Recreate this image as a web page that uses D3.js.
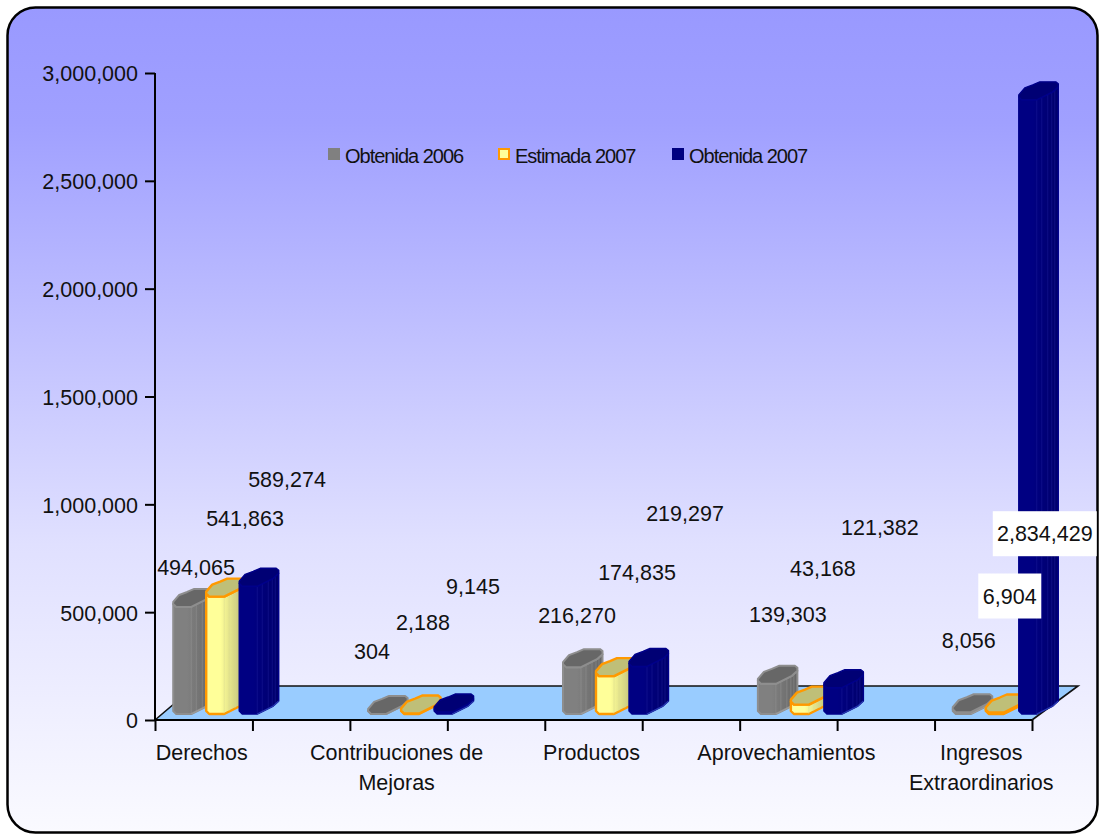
<!DOCTYPE html>
<html>
<head>
<meta charset="utf-8">
<script src="https://cdn.jsdelivr.net/npm/d3@7"></script>
<style>
html,body{margin:0;padding:0;background:#fff;}
svg{display:block;}
text{font-family:"Liberation Sans",Arial,sans-serif;fill:#111;}
</style>
</head>
<body>
<svg id="chart" width="1104" height="835"></svg>
<script>
const categories = [["Derechos"],["Contribuciones de","Mejoras"],["Productos"],["Aprovechamientos"],["Ingresos","Extraordinarios"]];
const seriesNames = ["Obtenida 2006","Estimada 2007","Obtenida 2007"];
const obtenida2006 = [494065,304,216270,139303,8056];
const estimada2007 = [541863,2188,174835,43168,6904];
const obtenida2007 = [589274,9145,219297,121382,2834429];
const yTicks = [0,500000,1000000,1500000,2000000,2500000,3000000];
const seriesValues = [obtenida2006,estimada2007,obtenida2007];

// Manual placement of the data labels, as offsets from each bar's top-left [dx,dy]
const labelNudges = [
  [[22.8,-46.4],[3.9,-69],[14,-58.4],[30,-76],[16,-78]],
  [[38.8,-85],[21.9,-97.5],[41,-110],[32,-142.7],[24,-122.5]],
  [[47.8,-114],[38.9,-132],[56,-159.7],[56,-166.8],[26,425]]
];
const boxedLabels = new Set(["1-4","2-4"]);

const looks = [
  {fillA:"#808080",fillB:"#686868",top:"#676767",stroke:"#8e8e8e",sw:2,line:"#9a9a9a",hi:"#9c9c9c",legend:"#808080"},
  {fillA:"#FFFF99",fillB:"#BDBD78",top:"#BFBF78",stroke:"#FF9900",sw:2.4,line:"#D8D890",hi:"#FF9900",legend:"#FFFF99"},
  {fillA:"#000082",fillB:"#00006C",top:"#000074",stroke:"#00008A",sw:1.4,line:"#2222a0",hi:"#2a3cb0",legend:"#000080"}
];

const svg = d3.select("#chart");
const defs = svg.append("defs");

const bg = defs.append("linearGradient").attr("id","bg").attr("x1",0).attr("y1",0).attr("x2",0).attr("y2",1);
[[0,"#9999FF"],[0.14,"#A0A0FF"],[0.65,"#E0E0FF"],[1,"#FAFAFF"]].forEach(s=>bg.append("stop").attr("offset",s[0]).attr("stop-color",s[1]));
looks.forEach((l,i)=>{
  const g = defs.append("linearGradient").attr("id","bar"+i).attr("x1",0).attr("y1",0).attr("x2",1).attr("y2",0);
  g.append("stop").attr("offset",0.35).attr("stop-color",l.fillA);
  g.append("stop").attr("offset",0.95).attr("stop-color",l.fillB);
});

svg.append("rect").attr("x",7.5).attr("y",7.5).attr("width",1090).attr("height",825).attr("rx",28).attr("ry",28)
  .attr("fill","url(#bg)").attr("stroke","#000").attr("stroke-width",2.5);

// scales
const yScale = d3.scaleLinear().domain([0,3000000]).range([720,73]);
const barTop = d3.scaleLinear().domain([0,3000000]).range([714,64]);
const slot = d3.scaleLinear().domain([0,9]).range([155,1032]);
const catCenter = i => slot(i*2+0.5);
const seriesX = d3.scaleBand().domain(seriesNames).range([-30.5,68.5]);

// floor
const floorDepth = {dx:46,dy:-34,leftDx:40};
const floorPts = [[slot(0),yScale(0)],[slot(9),yScale(0)],[slot(9)+floorDepth.dx,yScale(0)+floorDepth.dy],[slot(0)+floorDepth.leftDx,yScale(0)+floorDepth.dy]];
svg.append("path").attr("d",d3.line()(floorPts)+"Z").attr("fill","#99CCFF").attr("stroke","none");
svg.append("path").attr("d",d3.line()([floorPts[0],floorPts[3],floorPts[2],floorPts[1]])).attr("fill","none").attr("stroke","#111").attr("stroke-width",1.6);

// axes
const yAxis = d3.axisLeft(yScale).tickValues(yTicks).tickFormat(d3.format(",")).tickSize(10).tickPadding(7);
const yG = svg.append("g").attr("transform","translate("+slot(0)+",0)").call(yAxis);
const xAxis = d3.axisBottom(slot).tickValues(d3.range(0,10)).tickFormat("").tickSize(11);
const xG = svg.append("g").attr("transform","translate(0,"+yScale(0)+")").call(xAxis);
[yG,xG].forEach(g=>{
  g.selectAll("path,line").attr("stroke","#000").attr("stroke-width",2);
  g.selectAll("text").style("font-size","21.5px").attr("fill","#111");
});
yG.selectAll("text").attr("dy","0.37em");
yG.select(".domain").attr("d","M0,"+yScale(3000000)+"V"+yScale(0));
xG.select(".domain").attr("d","M"+slot(0)+",0H"+slot(9));

// category labels
svg.append("g").selectAll("text").data(categories).join("text")
  .attr("text-anchor","middle").style("font-size","21.5px")
  .attr("transform",(d,i)=>"translate("+(catCenter(i)-2)+",760)")
  .selectAll("tspan").data(d=>d).join("tspan")
  .attr("x",0).attr("y",(d,i)=>i*30).text(d=>d);

// bar cross-section (front edge, then back edge) relative to the bar's front-left foot
const frontEdge = [[0,-3],[3,0],[18,0],[34,-8],[39.5,-13]];
const backEdge = [[39.5,-16],[37,-18],[21,-18],[14,-15],[6,-12],[0,-5]];
const fluteAt = [18,23,29,33,36];
const frontY = d3.scaleLinear().domain(frontEdge.map(p=>p[0])).range(frontEdge.map(p=>p[1]));
const path = d3.line();

const shift = (pts,x,y)=>pts.map(p=>[p[0]+x,p[1]+y]);

const barsG = svg.append("g");
const rows = [];
seriesNames.forEach((name,s)=>categories.forEach((c,i)=>rows.push({s,i,name,v:seriesValues[s][i]})));
const bar = barsG.selectAll("g").data(rows).join("g");

bar.each(function(d){
  const g = d3.select(this), L = looks[d.s];
  const x = catCenter(d.i)+seriesX(d.name), base = barTop(0), top = barTop(d.v);
  const foot = shift(frontEdge,x,base), head = shift(frontEdge,x,top);
  g.append("path").attr("d",path(foot.concat(head.slice().reverse()))+"Z")
    .attr("fill","url(#bar"+d.s+")").attr("stroke",L.stroke).attr("stroke-width",L.sw).attr("stroke-linejoin","round");
  if (base-top>8) {
    g.selectAll("line").data(fluteAt).join("line")
      .attr("x1",f=>x+f).attr("x2",f=>x+f)
      .attr("y1",f=>top+frontY(f)).attr("y2",f=>base+frontY(f))
      .attr("stroke",L.line).attr("stroke-width",0.8).attr("opacity",0.55);
  }
  g.append("path").attr("d",path(shift([[18,0],[34,-8],[39.5,-13]],x,base)))
    .attr("fill","none").attr("stroke",L.hi).attr("stroke-width",1.2);
  g.append("path").attr("d",path(head.concat(shift(backEdge,x,top)))+"Z")
    .attr("fill",L.top).attr("stroke",L.stroke).attr("stroke-width",L.sw).attr("stroke-linejoin","round");
});

// data labels
const fmt = d3.format(",");
const lab = svg.append("g").selectAll("g").data(rows).join("g")
  .attr("transform",d=>{
    const n = labelNudges[d.s][d.i];
    return "translate("+(catCenter(d.i)+seriesX(d.name)+n[0])+","+(yScale(d.v)+n[1])+")";
  });
lab.filter(d=>boxedLabels.has(d.s+"-"+d.i)).append("rect")
  .attr("x",d=>-(fmt(d.v).length>6?52:31.5)).attr("y",-22.5)
  .attr("width",d=>fmt(d.v).length>6?104:63).attr("height",45).attr("fill","#fff");
lab.append("text").attr("text-anchor","middle").attr("dy","0.36em").style("font-size","21.5px").text(d=>fmt(d.v));

// legend
const legendX = d3.scaleOrdinal().domain(seriesNames).range([328,498,672]);
const leg = svg.append("g").selectAll("g").data(seriesNames).join("g")
  .attr("transform",d=>"translate("+legendX(d)+",148)");
leg.append("rect").attr("x",(d,i)=>i==1?1:0).attr("y",(d,i)=>i==1?1:0)
  .attr("width",(d,i)=>i==1?10:12).attr("height",(d,i)=>i==1?10:12)
  .attr("fill",(d,i)=>looks[i].legend).attr("stroke",(d,i)=>i==1?"#FF9900":"none").attr("stroke-width",2);
leg.append("text").attr("x",17).attr("y",15).style("font-size","20px").style("letter-spacing","-1px").text(d=>d);
</script>
</body>
</html>
